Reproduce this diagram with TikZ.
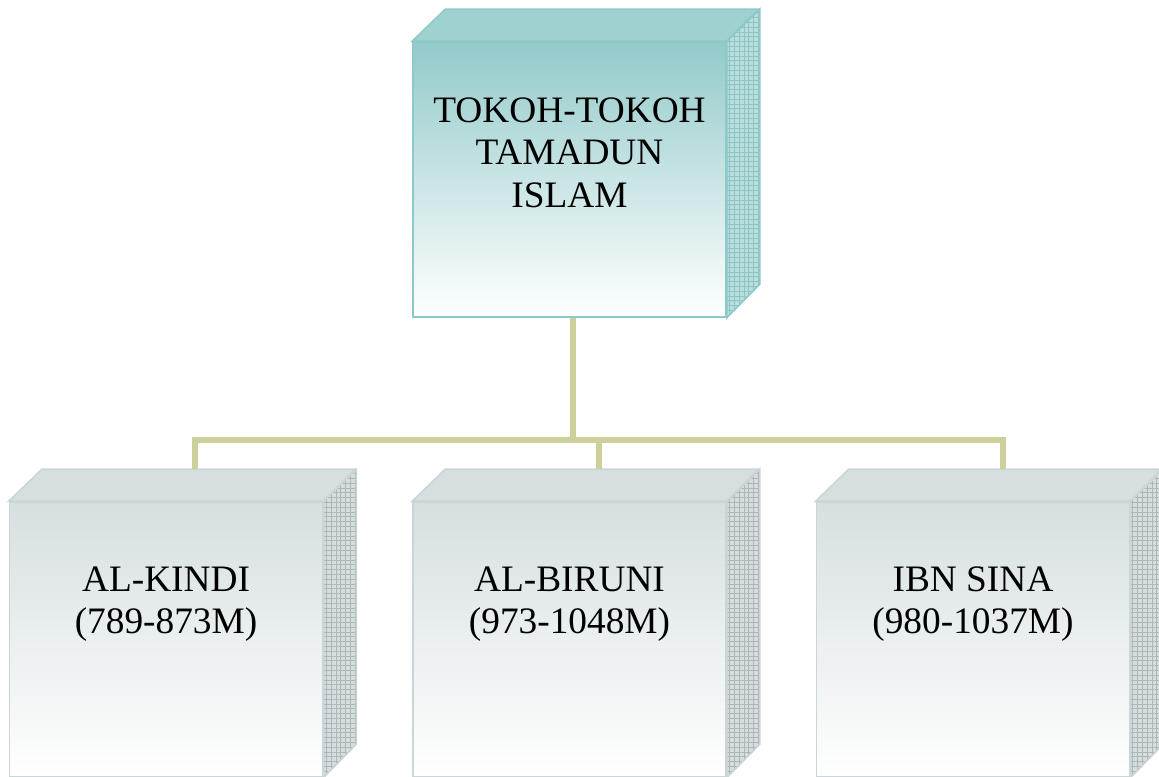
\documentclass[tikz,border=0pt]{standalone}
\usepackage{fontspec}
\setmainfont{Liberation Serif}
\usetikzlibrary{patterns.meta}

\definecolor{hijauMuka}{RGB}{147,202,202}
\definecolor{hijauAtas}{RGB}{160,209,209}
\definecolor{hijauSisi}{RGB}{186,222,222}
\definecolor{hijauGrid}{RGB}{140,196,196}
\definecolor{hijauGaris}{RGB}{141,201,201}
\definecolor{kelabuMuka}{RGB}{214,223,224}
\definecolor{kelabuAtas}{RGB}{214,223,224}
\definecolor{kelabuSisi}{RGB}{214,221,222}
\definecolor{kelabuGrid}{RGB}{170,182,183}
\definecolor{kelabuGaris}{RGB}{204,213,214}
\definecolor{garisKuning}{RGB}{207,207,155}

\begin{document}
\begin{tikzpicture}[x=0.75pt, y=-0.75pt, node distance=302.6pt,
    kotak/.style={rectangle, minimum width=234.75pt, minimum height=206.25pt, inner sep=0pt, align=center, font=\fontsize{28}{32}\selectfont, bottom color=white, line width=1.2pt},
    kepala/.style={kotak, draw=hijauGaris, top color=hijauMuka, text depth=40.75pt},
    anak/.style={kotak, draw=kelabuGaris, top color=kelabuMuka, text depth=59.25pt},
    garis/.style={line width=4.5pt, draw=garisKuning}]
    \useasboundingbox (0,0) rectangle (1159,776);
    \clip (0,0) rectangle (1159,776);

    \node[anak] (biruni) at (569.5,639.5) {AL-BIRUNI\\(973-1048M)};
    \node[anak] (kindi) [left of=biruni] {AL-KINDI\\(789-873M)};
    \node[anak] (sina) [right of=biruni] {IBN SINA\\(980-1037M)};
    \node[kepala] (tokoh) [above of=biruni, node distance=345pt] {TOKOH-TOKOH\\TAMADUN\\ISLAM};

    % sisi atas dan sisi kanan
    \foreach \n/\c in {tokoh/hijau, kindi/kelabu, biruni/kelabu, sina/kelabu} {
        \draw[\c Garis, line width=1.2pt, fill=\c Atas] (\n.north west) -- ++(33,-32) -- ++(313,0) -- (\n.north east) -- cycle;
        \draw[\c Garis, line width=1.2pt, preaction={fill=\c Sisi}, pattern={Hatch[distance=3.6pt, line width=0.5pt]}, pattern color=\c Grid] (\n.north east) -- ++(33,-32) -- ++(0,275) -- (\n.south east) -- cycle;
    }

    \coordinate (k1) at ([shift={(29,-32)}]kindi.north);
    \coordinate (b1) at ([shift={(29,-32)}]biruni.north);
    \coordinate (s1) at ([shift={(30,-32)}]sina.north);

    \draw[garis] ([xshift=2.5pt]tokoh.south) -- ++(0,122) coordinate (simpang);
    \foreach \n in {k1, b1, s1}
        \draw[garis] (simpang) -| (\n);
\end{tikzpicture}
\end{document}
